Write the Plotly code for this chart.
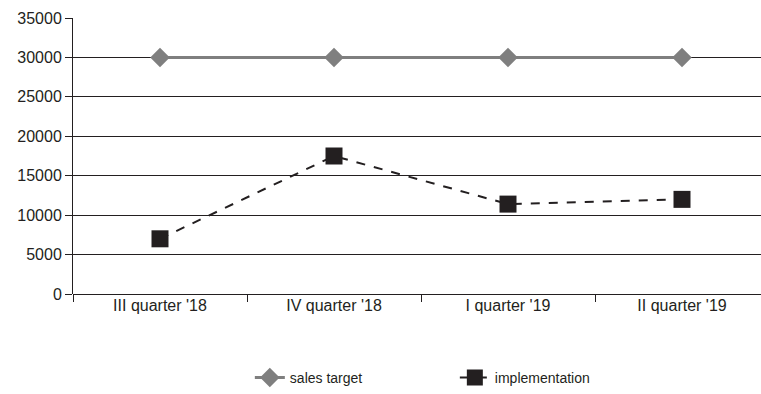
import plotly.graph_objects as go

categories = ["III quarter '18", "IV quarter '18", "I quarter '19", "II quarter '19"]
sales_target = [30000, 30000, 30000, 30000]
implementation = [7000, 17500, 11400, 12000]
y_ticks = [0, 5000, 10000, 15000, 20000, 25000, 30000, 35000]

FONT = "Liberation Sans, Arial, sans-serif"

fig = go.Figure()
fig.add_trace(go.Scatter(
    x=categories, y=sales_target, name="sales target", mode="lines+markers",
    line=dict(color="#7f7f7f", width=3),
    marker=dict(symbol="diamond", size=15, color="#7f7f7f"),
))
fig.add_trace(go.Scatter(
    x=categories, y=implementation, name="implementation", mode="lines+markers",
    line=dict(color="#231f20", width=2, dash="dash"),
    marker=dict(symbol="square", size=17, color="#231f20"),
))

fig.update_layout(
    width=761, height=394,
    margin=dict(l=73, r=0, t=18, b=98),
    paper_bgcolor="white", plot_bgcolor="white",
    font=dict(family=FONT, size=16, color="#231f20"),
    showlegend=True,
    legend=dict(orientation="h", x=0.555, xanchor="center", y=-0.305, yanchor="middle",
                font=dict(size=14), entrywidth=160, entrywidthmode="pixels"),
    xaxis=dict(
        type="category", range=[-0.5, 3.454],
        showgrid=False, showline=False, zeroline=False,
        ticks="outside", tickson="boundaries", ticklen=7, tickcolor="#231f20",
        tickfont=dict(size=16),
    ),
    yaxis=dict(
        range=[0, 35000], tickvals=y_ticks, tickformat="d",
        showgrid=True, gridcolor="#231f20", gridwidth=1,
        showline=True, linecolor="#231f20", linewidth=1,
        zeroline=True, zerolinecolor="#231f20", zerolinewidth=1,
        ticks="outside", ticklen=7, tickcolor="#231f20",
        tickfont=dict(size=16),
    ),
)

fig.write_html("out.html")
